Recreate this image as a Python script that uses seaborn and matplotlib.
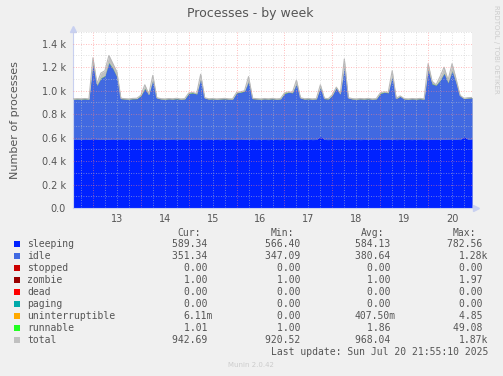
import numpy as np
import pandas as pd
import matplotlib
matplotlib.use('Agg')
import matplotlib.pyplot as plt
from matplotlib.patches import Rectangle
import seaborn as sns

sns.set_theme(style='white')
plt.rcParams['font.family'] = ['DejaVu Sans']

# --- data (2 hour steps) ---
start = '2025-07-12 14:00'

sleeping = [586, 585, 587, 584, 586, 590, 588, 585, 587, 586,
            589, 584, 585, 583, 586, 584, 585, 587, 586, 584,
            585, 583, 584, 586, 585, 584, 583, 585, 584, 586,
            585, 584, 587, 583, 584, 585, 584, 583, 585, 584,
            586, 585, 584, 586, 587, 584, 583, 585, 584, 583,
            585, 584, 583, 586, 585, 584, 587, 583, 584, 585,
            583, 584, 612, 584, 583, 585, 586, 584, 590, 583,
            584, 585, 583, 584, 586, 585, 584, 585, 586, 584,
            587, 583, 584, 585, 584, 583, 585, 584, 583, 587,
            586, 585, 586, 587, 585, 584, 586, 583, 610, 585,
            589]

idle = [340, 343, 340, 345, 340, 636, 455, 521, 539, 650,
        597, 532, 346, 345, 340, 346, 346, 369, 430, 382,
        501, 353, 344, 340, 344, 343, 348, 341, 344, 390,
        396, 387, 509, 353, 343, 344, 342, 345, 345, 343,
        340, 396, 402, 410, 489, 347, 345, 341, 345, 344,
        345, 342, 345, 390, 401, 397, 469, 353, 343, 344,
        343, 344, 414, 347, 345, 376, 440, 387, 606, 353,
        344, 341, 346, 343, 344, 341, 344, 391, 400, 397,
        529, 348, 367, 343, 342, 346, 342, 346, 343, 589,
        470, 461, 500, 559, 481, 582, 480, 373, 321, 351,
        349]

runnable = [1.2, 1.5, 1.1, 1.8, 1.3, 3, 2, 2.5, 2, 3,
            2.5, 1.8, 1.2, 1.4, 1.1, 1.6, 1.3, 2.5, 2, 2,
            2.5, 1.4, 1.2, 1.5, 1.1, 1.3, 1.6, 1.2, 1.4, 3,
            2.5, 2.5, 2, 1.3, 1.2, 1.5, 1.1, 1.4, 1.3, 1.2,
            1.5, 3, 2.5, 2, 2, 1.3, 1.2, 1.4, 1.1, 1.5,
            1.3, 1.2, 1.4, 3, 2.5, 2, 2, 1.3, 1.2, 1.4,
            1.1, 1.3, 2, 1.2, 1.4, 2, 3, 2.5, 2, 1.3,
            1.2, 1.4, 1.1, 1.5, 1.3, 1.2, 1.4, 3, 2.5, 2,
            2, 1.3, 2, 1.2, 1.4, 1.1, 1.3, 1.5, 1.2, 2.5,
            2.5, 2, 2.5, 2, 2, 2.5, 2, 2, 1.3, 1.2,
            1.0]

total = [930, 932, 931, 933, 930, 1280, 1060, 1150, 1170, 1300,
         1230, 1160, 935, 932, 930, 934, 935, 960, 1050, 970,
         1130, 940, 932, 930, 933, 931, 935, 930, 932, 980,
         985, 975, 1140, 940, 931, 933, 930, 932, 934, 931,
         930, 985, 990, 1000, 1120, 935, 932, 930, 933, 931,
         934, 930, 932, 980, 990, 985, 1090, 940, 931, 933,
         930, 932, 1050, 935, 932, 965, 1030, 975, 1270, 940,
         932, 930, 933, 931, 934, 930, 932, 980, 990, 985,
         1170, 935, 955, 932, 930, 933, 931, 934, 930, 1230,
         1080, 1050, 1120, 1200, 1090, 1230, 1100, 960, 935, 940,
         942]

zombie = 1.0

names = ['sleeping', 'idle', 'stopped', 'zombie', 'dead', 'paging',
         'uninterruptible', 'runnable', 'total']
colors = ['#0022ff', '#4169e1', '#cc0000', '#990000', '#ff0000', '#00aaaa',
          '#ffaa00', '#22ff22', '#c0c0c0']
cur = ['589.34 ', '351.34 ', '0.00 ', '1.00 ', '0.00 ', '0.00 ', '6.11m', '1.01 ', '942.69 ']
mins = ['566.40 ', '347.09 ', '0.00 ', '1.00 ', '0.00 ', '0.00 ', '0.00 ', '1.00 ', '920.52 ']
avgs = ['584.13 ', '380.64 ', '0.00 ', '1.00 ', '0.00 ', '0.00 ', '407.50m', '1.86 ', '968.04 ']
maxs = ['782.56 ', '1.28k', '0.00 ', '1.97 ', '0.00 ', '0.00 ', '4.85 ', '49.08 ', '1.87k']

day_labels = ['13', '14', '15', '16', '17', '18', '19', '20']
y_labels = ['0.0', '0.2 k', '0.4 k', '0.6 k', '0.8 k', '1.0 k', '1.2 k', '1.4 k']

df = pd.DataFrame({'sleeping': sleeping, 'idle': idle,
                   'runnable': runnable, 'total': total})
df['time'] = pd.date_range(start, periods=len(df), freq='2h')
df['s1'] = df['sleeping']
df['s2'] = df['s1'] + df['idle']
df['s3'] = df['s2'] + zombie
df['s4'] = df['s3'] + df['runnable']

# --- figure ---
W, H = 503, 376
fig = plt.figure(figsize=(W / 100, H / 100), dpi=100, facecolor='#f0f0f0')
ax = fig.add_axes([73 / W, 1 - 208 / H, 399 / W, 176 / H])
ax.set_facecolor('white')

x = df['time']
ax.fill_between(x, 0, df['total'], color='#c0c0c0', lw=0, zorder=1)
ax.fill_between(x, 0, df['s1'], color=colors[0], lw=0, zorder=2)
ax.fill_between(x, df['s1'], df['s2'], color=colors[1], lw=0, zorder=2)
ax.fill_between(x, df['s2'], df['s3'], color=colors[3], lw=0, zorder=2)
ax.fill_between(x, df['s3'], df['s4'], color=colors[7], lw=0, zorder=2)
sns.lineplot(data=df, x='time', y='total', ax=ax, color='#b8b8b8', lw=0.8, zorder=3)

t0 = pd.Timestamp(start)
t1 = pd.Timestamp('2025-07-20 22:00')
ax.set_xlim(t0, t1)
ax.set_ylim(0, 1500)

# grid (munin style dotted, drawn over the areas)
for t in pd.date_range('2025-07-12 18:00', t1, freq='6h'):
    if t.hour == 0:
        ax.axvline(t, color='#ff8080', lw=0.6, ls=(0, (1, 2)), alpha=0.7, zorder=4)
    else:
        ax.axvline(t, color='#c8c8c8', lw=0.6, ls=(0, (1, 2)), alpha=0.7, zorder=4)
for v in range(100, 1600, 100):
    if v % 200 == 0:
        ax.axhline(v, color='#ff8080', lw=0.6, ls=(0, (1, 2)), alpha=0.7, zorder=4)
    else:
        ax.axhline(v, color='#c8c8c8', lw=0.6, ls=(0, (1, 2)), alpha=0.7, zorder=4)

ax.set_xticks(pd.date_range('2025-07-13 12:00', periods=len(day_labels), freq='D'))
ax.set_xticklabels(day_labels)
ax.set_yticks(range(0, 1600, 200))
ax.set_yticklabels(y_labels)
ax.tick_params(axis='both', length=0, labelsize=7, colors='#555555')
ax.tick_params(axis='x', pad=4)
ax.tick_params(axis='y', pad=5)
ax.set_xlabel('')
ax.set_ylabel('Number of processes', fontsize=8, color='#555555', labelpad=16)

for s in ['top', 'right']:
    ax.spines[s].set_visible(False)
for s in ['left', 'bottom']:
    ax.spines[s].set_color('#c8d0f0')
    ax.spines[s].set_linewidth(0.8)
ax.plot([0], [1.015], marker='^', ms=4, color='#c8d0f0', transform=ax.transAxes, clip_on=False)
ax.plot([1.01], [0], marker='>', ms=4, color='#c8d0f0', transform=ax.transAxes, clip_on=False)

fig.text(250 / W, 1 - 13 / H, 'Processes - by week', ha='center', va='center',
         fontsize=9, color='#555555')
fig.text(496 / W, 1 - 5 / H, 'RRDTOOL / TOBI OETIKER', rotation=270, ha='center', va='top',
         fontsize=5, color='#cccccc')

# --- legend table ---
mono = dict(family='DejaVu Sans Mono', fontsize=7, color='#555555', va='center')
hy = 233
for lbl, xr in zip(['Cur:', 'Min:', 'Avg:', 'Max:'], [201, 294, 384, 476]):
    fig.text(xr / W, 1 - hy / H, lbl, ha='right', **mono)
for i, (n, c) in enumerate(zip(names, colors)):
    y = 244.3 + 12 * i
    fig.add_artist(Rectangle((14 / W, 1 - (y + 3) / H), 6 / W, 6 / H,
                             transform=fig.transFigure, color=c, lw=0))
    fig.text(27 / W, 1 - y / H, n, ha='left', **mono)
    for vals, xr in zip([cur, mins, avgs, maxs], [213, 306, 396, 488]):
        fig.text(xr / W, 1 - y / H, vals[i], ha='right', **mono)
fig.text(488 / W, 1 - 352.3 / H, 'Last update: Sun Jul 20 21:55:10 2025', ha='right', **mono)
fig.text(251 / W, 1 - 365 / H, 'Munin 2.0.42', ha='center', va='center',
         fontsize=5, color='#cccccc')

fig.savefig('out.png', dpi=100, facecolor=fig.get_facecolor())
